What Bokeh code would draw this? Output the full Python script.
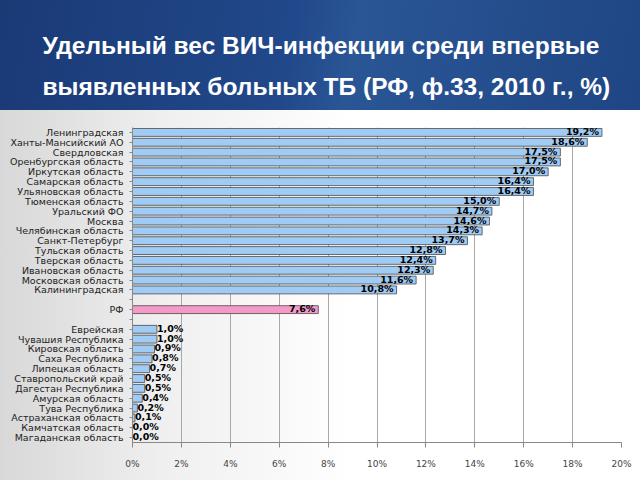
from bokeh.plotting import figure
from bokeh.models import FactorRange, Title, FixedTicker, ColumnDataSource
from bokeh.core.properties import value
from bokeh.embed import file_html
from bokeh.resources import INLINE

title_lines = ["Удельный вес ВИЧ-инфекции среди впервые",
               "выявленных больных ТБ (РФ, ф.33, 2010 г., %)"]

top_regions = ["Ленинградская", "Ханты-Мансийский АО", "Свердловская",
               "Оренбургская область", "Иркутская область", "Самарская область",
               "Ульяновская область", "Тюменская область", "Уральский ФО", "Москва",
               "Челябинская область", "Санкт-Петербург", "Тульская область",
               "Тверская область", "Ивановская область", "Московская область",
               "Калининградская"]
top_values = [19.2, 18.6, 17.5, 17.5, 17.0, 16.4, 16.4, 15.0, 14.7, 14.6,
              14.3, 13.7, 12.8, 12.4, 12.3, 11.6, 10.8]

rf_label = ["РФ"]
rf_value = [7.6]

low_regions = ["Еврейская", "Чувашия Республика", "Кировская область",
               "Саха Республика", "Липецкая область", "Ставропольский край",
               "Дагестан Республика", "Амурская область", "Тува Республика",
               "Астраханская область", "Камчатская область", "Магаданская область"]
low_values = [1.0, 1.0, 0.9, 0.8, 0.7, 0.5, 0.5, 0.4, 0.2, 0.1, 0.0, 0.0]

x_ticks = [0, 2, 4, 6, 8, 10, 12, 14, 16, 18, 20]

def fmt(v):
    return ("%.1f%%" % v).replace(".", ",")

factors = top_regions + [" "] + rf_label + ["  "] + low_regions
p = figure(width=640, height=480, x_range=(0, 20),
           y_range=FactorRange(factors=list(reversed(factors))),
           toolbar_location=None, output_backend="svg",
           min_border_left=132, min_border_right=19,
           min_border_top=127, min_border_bottom=38)
p.background_fill_alpha = 0
p.border_fill_alpha = 0
p.outline_line_color = None
p.styles = {"background":
            "linear-gradient(100deg, #1a3a76 0%, #21488a 45%, #2a5696 55%, #1f4584 100%) top left / 100% 110px no-repeat, "
            "linear-gradient(90deg, #d8d8d8 0%, #efefef 25%, #ffffff 55%, #ffffff 100%)"}

p.title = Title(text=title_lines[0] + "\n" + title_lines[1], align="left",
                text_color="white", text_font="Liberation Sans",
                text_font_style="bold", text_font_size="24.5px",
                text_line_height=1.55, standoff=54, offset=-90)

top_src = ColumnDataSource(dict(y=top_regions, x=top_values, lab=[fmt(v) for v in top_values]))
rf_src = ColumnDataSource(dict(y=rf_label, x=rf_value, lab=[fmt(v) for v in rf_value]))
low_src = ColumnDataSource(dict(y=low_regions, x=low_values, lab=[fmt(v) for v in low_values]))

for src, col in [(top_src, "#9fcbf5"), (rf_src, "#f59ac8"), (low_src, "#9fcbf5")]:
    p.hbar(y="y", right="x", left=0, height=0.8, source=src,
           fill_color=col, line_color="#4a4a4a", line_width=0.8)

lab_kw = dict(text="lab", text_baseline="middle", text_color="#000000",
              text_font=value("DejaVu Sans"), text_font_style="bold",
              text_font_size="9.5px")
p.text(x="x", y="y", source=top_src, text_align="right", x_offset=-3, y_offset=-1, **lab_kw)
p.text(x="x", y="y", source=rf_src, text_align="right", x_offset=-3, y_offset=-1, **lab_kw)
p.text(x="x", y="y", source=low_src, text_align="left", x_offset=0, y_offset=-1, **lab_kw)

p.ygrid.visible = False
p.xgrid.grid_line_color = "#a8a8a8"
p.xgrid.grid_line_width = 1
p.xaxis.ticker = FixedTicker(ticks=x_ticks)
p.xaxis.major_label_overrides = {t: "%d%%" % t for t in x_ticks}
p.xaxis.axis_line_color = "#888888"
p.xaxis.major_tick_line_color = "#888888"
p.xaxis.major_tick_out = 5
p.xaxis.major_tick_in = 0
p.xaxis.minor_tick_line_color = None
p.xaxis.major_label_standoff = 11
p.xaxis.major_label_text_font = "DejaVu Sans"
p.xaxis.major_label_text_font_size = "9px"
p.xaxis.major_label_text_color = "#444444"

p.yaxis.axis_line_color = "#888888"
p.yaxis.major_tick_line_color = "#888888"
p.yaxis.major_tick_out = 3
p.yaxis.major_tick_in = 0
p.yaxis.major_label_standoff = 6
p.yaxis.major_label_text_font = "DejaVu Sans"
p.yaxis.major_label_text_font_size = "9.5px"
p.yaxis.major_label_text_color = "#222222"
p.y_range.range_padding = 0

open("out.html", "w").write(file_html(p, INLINE))
